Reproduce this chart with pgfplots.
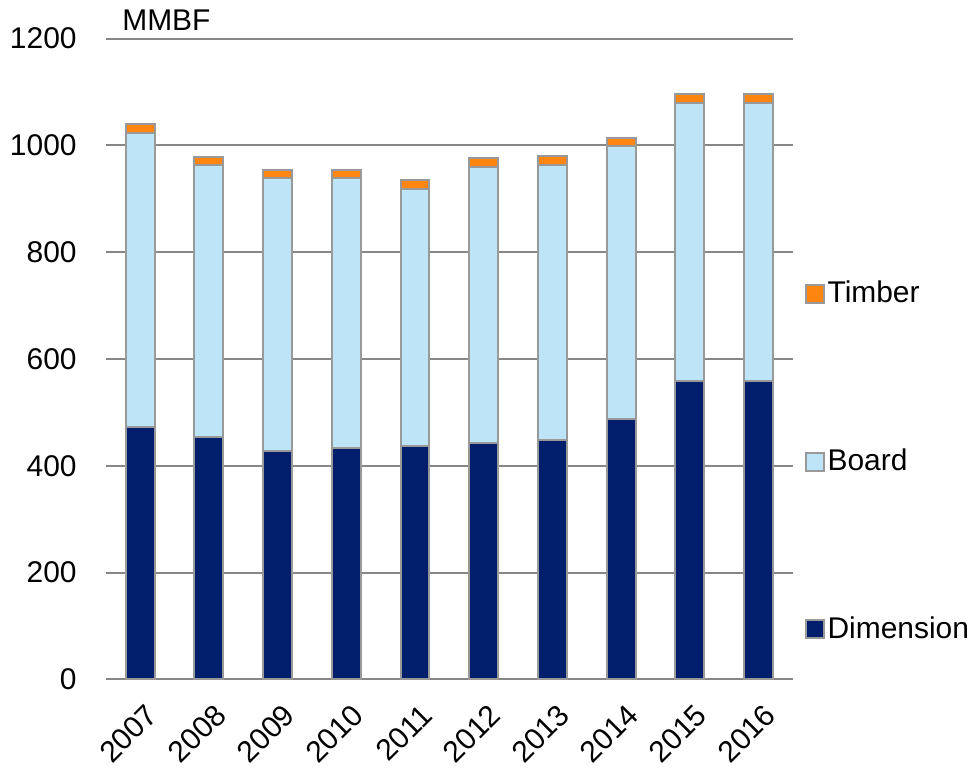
\documentclass[border=0pt]{standalone}
\usepackage{fontspec}
\setmainfont{Liberation Sans}
\usepackage{pgfplots}
\pgfplotsset{compat=1.18}

\definecolor{dimcol}{RGB}{0,30,108}
\definecolor{boardcol}{RGB}{190,228,247}
\definecolor{timbcol}{RGB}{255,133,17}
\definecolor{edgecol}{RGB}{153,153,153}
\definecolor{gridcol}{RGB}{135,135,135}

\begin{document}
\fontsize{15}{18}\selectfont
\begin{tikzpicture}
\begin{axis}[
  scale only axis,
  width=344pt, height=321pt,
  clip mode=individual,
  ybar stacked, bar width=14.5pt,
  xmin=-0.5, xmax=9.5,
  ymin=0, ymax=1200,
  ytick={0,200,...,1200},
  xtick={0,...,9},
  xticklabels={2007,2008,2009,2010,2011,2012,2013,2014,2015,2016},
  axis line style={draw=none},
  tick style={draw=none},
  ymajorgrids,
  major grid style={gridcol, line width=1pt},
  /pgf/number format/assume math mode=true,
  /pgf/number format/1000 sep={},
  ticklabel style={font=\fontsize{15}{18}\selectfont},
  yticklabel style={xshift=-9.5pt},
  xticklabel style={rotate=45, anchor=east, xshift=-1.5pt, yshift=-15pt},
  legend style={draw=none, fill=none, at={(rel axis cs:1.008,0.34)}, anchor=west,
    row sep=71pt, font=\fontsize{15}{18}\selectfont,
    nodes={inner xsep=1.5pt, inner ysep=0pt}},
  legend cell align=left,
  reverse legend,
  legend image code/.code={\draw[#1, draw=edgecol, line width=1pt] (0pt,-4.5pt) rectangle (9pt,4.5pt);},
]
\addplot[fill=dimcol, draw=edgecol, line width=1pt] coordinates {
(0,472) (1,453) (2,428) (3,433) (4,438) (5,443) (6,448) (7,487) (8,559) (9,559)};
\addlegendentry{Dimension}
\addplot[fill=boardcol, draw=edgecol, line width=1pt] coordinates {
(0,552) (1,510) (2,511) (3,506) (4,481) (5,516) (6,516) (7,512) (8,520) (9,520)};
\addlegendentry{Board}
\addplot[fill=timbcol, draw=edgecol, line width=1pt] coordinates {
(0,16) (1,16) (2,15) (3,15) (4,16) (5,17) (6,16) (7,15) (8,17) (9,17)};
\addlegendentry{Timber}
\node[anchor=base west, xshift=3pt, yshift=4pt] at (rel axis cs:0,1) {MMBF};
\end{axis}
\end{tikzpicture}
\end{document}
